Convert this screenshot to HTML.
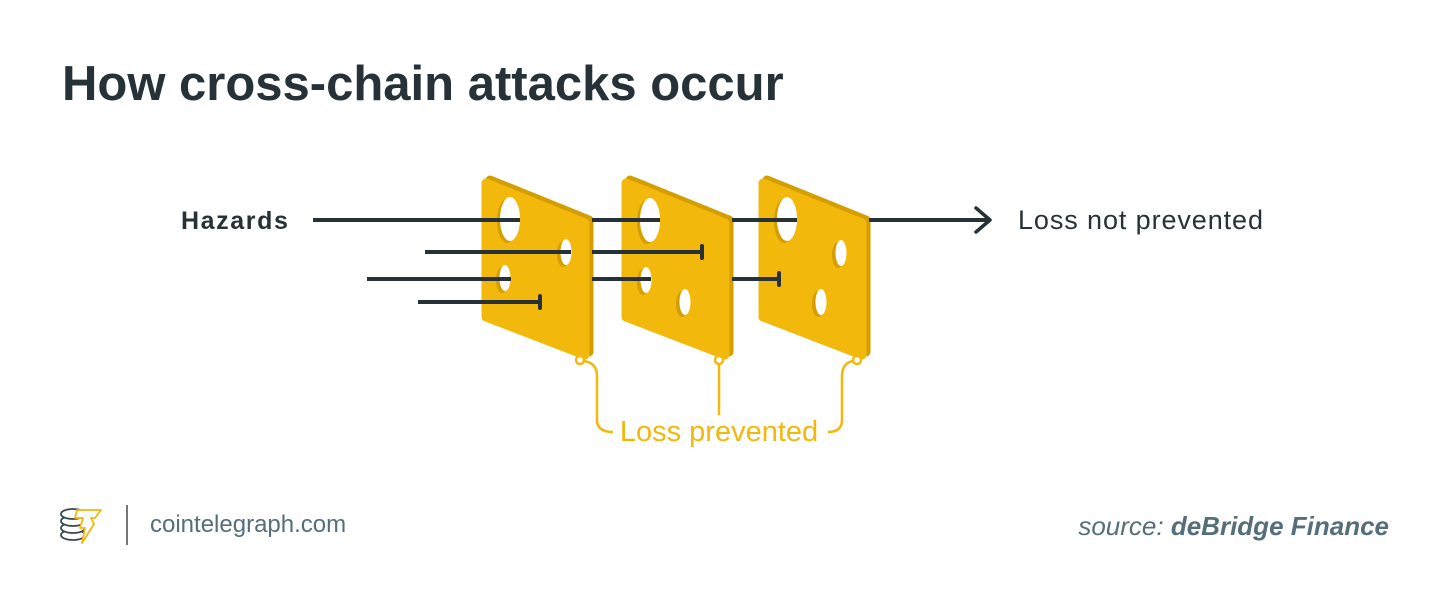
<!DOCTYPE html>
<html><head><meta charset="utf-8"><style>
body{margin:0;background:#fff;}
svg{display:block}
text{font-family:"Liberation Sans",sans-serif}
</style></head><body>
<svg width="1450" height="605" viewBox="0 0 1450 605" xmlns="http://www.w3.org/2000/svg">
<text x="62" y="100" font-size="49" font-weight="bold" fill="#263238">How cross-chain attacks occur</text>
<text x="181" y="229" font-size="25" font-weight="bold" fill="#263238" letter-spacing="1.6">Hazards</text>
<text x="1018" y="229" font-size="27" fill="#263238" letter-spacing="0.9">Loss not prevented</text>

<g stroke="#263238" stroke-width="4" fill="none">
<line x1="313" y1="220" x2="988" y2="220"/>
<polyline points="976,208 990,220 976,232" stroke-width="3.5" stroke-linejoin="round" stroke-linecap="round"/>
<line x1="425" y1="252" x2="702" y2="252"/>
<line x1="367" y1="279" x2="779" y2="279"/>
<line x1="418" y1="302" x2="540" y2="302"/>
</g>

<g id="slices">
<g>
<polygon points="490,180 589,220 589,352 490,314" fill="#d49e00" stroke="#d49e00" stroke-width="9" stroke-linejoin="round"/>
<polygon points="486,183 585,223 585,355 486,317" fill="#f3b80c" stroke="#f3b80c" stroke-width="9" stroke-linejoin="round"/>
<g fill="#d49e00"><ellipse cx="507" cy="221" rx="10" ry="22"/><ellipse cx="563" cy="254" rx="6" ry="13"/><ellipse cx="502" cy="280" rx="6" ry="13"/></g>
<g fill="#fff"><ellipse cx="510" cy="219" rx="10" ry="22"/><ellipse cx="566" cy="252" rx="5.5" ry="13"/><ellipse cx="505" cy="278" rx="5.5" ry="13"/></g>
</g>
<g>
<polygon points="630,180 729,220 729,352 630,314" fill="#d49e00" stroke="#d49e00" stroke-width="9" stroke-linejoin="round"/>
<polygon points="626,183 725,223 725,355 626,317" fill="#f3b80c" stroke="#f3b80c" stroke-width="9" stroke-linejoin="round"/>
<g fill="#d49e00"><ellipse cx="647" cy="222" rx="10" ry="22"/><ellipse cx="643" cy="282" rx="6" ry="13"/><ellipse cx="682" cy="304" rx="6" ry="13"/></g>
<g fill="#fff"><ellipse cx="650" cy="220" rx="10" ry="22"/><ellipse cx="646" cy="280" rx="5.5" ry="13"/><ellipse cx="685" cy="302" rx="5.5" ry="13"/></g>
</g>
<g>
<polygon points="767,180 866,220 866,352 767,314" fill="#d49e00" stroke="#d49e00" stroke-width="9" stroke-linejoin="round"/>
<polygon points="763,183 862,223 862,355 763,317" fill="#f3b80c" stroke="#f3b80c" stroke-width="9" stroke-linejoin="round"/>
<g fill="#d49e00"><ellipse cx="784" cy="221" rx="10" ry="22"/><ellipse cx="838" cy="255" rx="6" ry="13"/><ellipse cx="818" cy="304" rx="6" ry="13"/></g>
<g fill="#fff"><ellipse cx="787" cy="219" rx="10" ry="22"/><ellipse cx="841" cy="253" rx="5.5" ry="13"/><ellipse cx="821" cy="302" rx="5.5" ry="13"/></g>
</g>
</g>

<g stroke="#263238" stroke-width="4" fill="none">
<line x1="481" y1="220" x2="520" y2="220"/>
<line x1="481" y1="252" x2="571" y2="252"/>
<line x1="481" y1="279" x2="511" y2="279"/>
<line x1="481" y1="302" x2="540" y2="302"/>
<line x1="592" y1="220" x2="660" y2="220"/>
<line x1="592" y1="252" x2="702" y2="252"/>
<line x1="592" y1="279" x2="651" y2="279"/>
<line x1="732" y1="220" x2="797" y2="220"/>
<line x1="732" y1="279" x2="779" y2="279"/>
<line x1="869" y1="220" x2="900" y2="220"/>
</g>
<g stroke="#263238" stroke-width="4" stroke-linecap="round">
<line x1="540" y1="296" x2="540" y2="308"/>
<line x1="702" y1="246" x2="702" y2="258"/>
<line x1="779" y1="273" x2="779" y2="285"/>
</g>

<g stroke="#f3b80c" stroke-width="2.5" fill="none">
<path d="M584,361 Q597,363 597,376 L597,420 Q597,432 613,432"/>
<line x1="719" y1="364" x2="719" y2="415"/>
<path d="M853,361 Q842,363 842,376 L842,420 Q842,432 828,432"/>
<circle cx="580" cy="360" r="4" fill="#fff"/>
<circle cx="719" cy="360" r="4" fill="#fff"/>
<circle cx="857" cy="360" r="4" fill="#fff"/>
</g>
<text x="719" y="441" font-size="29" fill="#f3b80c" text-anchor="middle">Loss prevented</text>

<g stroke="#37474f" stroke-width="1.8" fill="#fff">
<ellipse cx="73" cy="535" rx="12" ry="5"/>
<ellipse cx="73" cy="528" rx="12" ry="5"/>
<ellipse cx="73" cy="521" rx="12" ry="5"/>
<ellipse cx="73" cy="514" rx="12" ry="5"/>
</g>
<path d="M77,510 L101,510 L95,518 L91,518 L94,524 L82,543 L85,528 L80,528 L83,518 L75,518 Z" fill="#fff" stroke="#f3b80c" stroke-width="1.8" stroke-linejoin="round"/>
<line x1="127" y1="505" x2="127" y2="545" stroke="#777" stroke-width="2"/>
<text x="150" y="532" font-size="24" fill="#546e7a">cointelegraph.com</text>
<text x="1389" y="535" font-size="26" fill="#546e7a" text-anchor="end" font-style="italic"><tspan>source: </tspan><tspan font-weight="bold">deBridge Finance</tspan></text>
</svg>
</body></html>
